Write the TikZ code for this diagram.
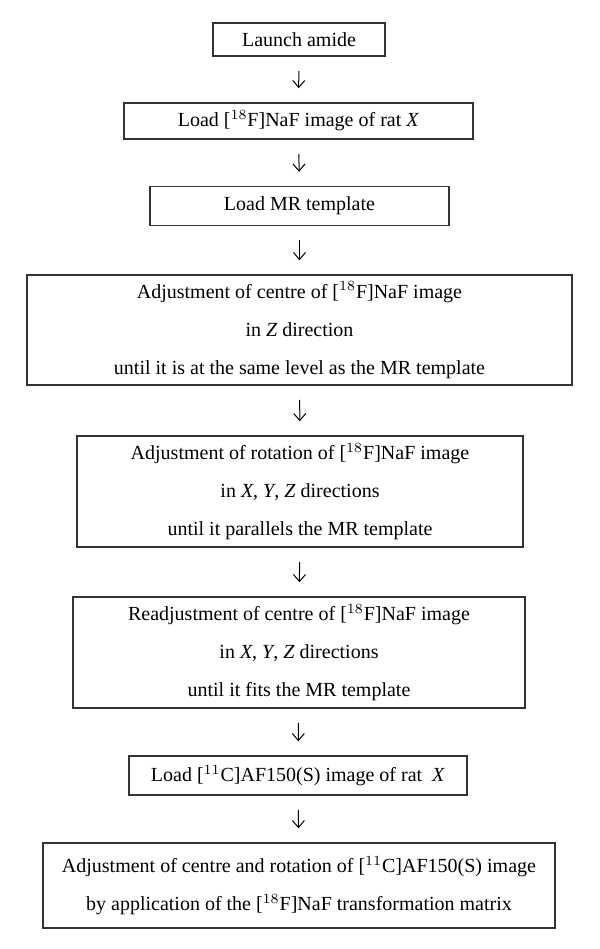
\documentclass[tikz,border=0pt]{standalone}
\usepackage{fontspec}
\setmainfont{Liberation Serif}
\usetikzlibrary{arrows.meta}
\begin{document}
\begin{tikzpicture}[x=0.5pt,y=-0.5pt,
  stepbox/.style={draw=black!80,line width=0.75pt,inner sep=0pt,align=center,
    font=\fontsize{10pt}{19pt}\selectfont},
  flowarrow/.style={-{Straight Barb[length=3.5pt,width=6pt]},line width=0.5pt,shorten >=7pt,shorten <=7pt}]
\useasboundingbox (0,0) rectangle (600,949);
\node[stepbox,minimum width=172pt*0.5,minimum height=33pt*0.5] (b1) at (299,39.5) {Launch amide};
\node[stepbox,minimum width=349pt*0.5,minimum height=36pt*0.5] (b2) at (298.5,121) {Load [$^{18}$F]NaF image of rat \textit{X}};
\node[stepbox,minimum width=299pt*0.5,minimum height=39pt*0.5] (b3) at (299.5,206) {Load MR template};
\node[stepbox,minimum width=545pt*0.5,minimum height=110pt*0.5] (b4) at (299.5,330) {Adjustment of centre of [$^{18}$F]NaF image\\in \textit{Z} direction\\until it is at the same level as the MR template};
\node[stepbox,minimum width=446pt*0.5,minimum height=111pt*0.5] (b5) at (300,491.5) {Adjustment of rotation of [$^{18}$F]NaF image\\in \textit{X}, \textit{Y}, \textit{Z} directions\\until it parallels the MR template};
\node[stepbox,minimum width=452pt*0.5,minimum height=111pt*0.5] (b6) at (299,652.5) {Readjustment of centre of [$^{18}$F]NaF image\\in \textit{X}, \textit{Y}, \textit{Z} directions\\until it fits the MR template};
\node[stepbox,minimum width=338pt*0.5,minimum height=39pt*0.5] (b7) at (298,775.5) {Load [$^{11}$C]AF150(S) image of rat \ \textit{X}};
\node[stepbox,minimum width=512pt*0.5,minimum height=85pt*0.5] (b8) at (299,885.5) {Adjustment of centre and rotation of [$^{11}$C]AF150(S) image\\by application of the [$^{18}$F]NaF transformation matrix};
\draw[flowarrow] (b1) -- (b2);
\draw[flowarrow] (b2) -- (b3);
\draw[flowarrow] (b3) -- (b4);
\draw[flowarrow] (b4) -- (b5);
\draw[flowarrow] (b5) -- (b6);
\draw[flowarrow] (b6) -- (b7);
\draw[flowarrow] (b7) -- (b8);
\end{tikzpicture}
\end{document}
